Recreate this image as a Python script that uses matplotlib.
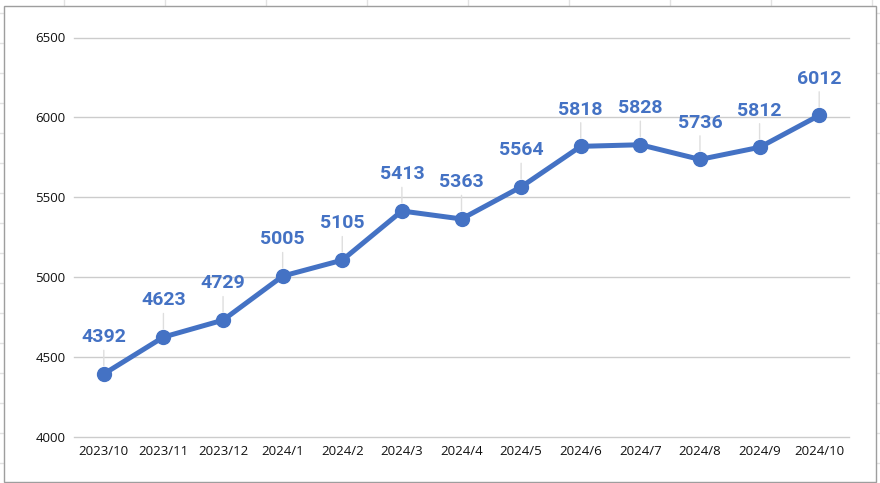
import numpy as np
import matplotlib.pyplot as plt
from matplotlib.patches import Rectangle
from matplotlib.lines import Line2D

months = ['2023/10', '2023/11', '2023/12', '2024/1', '2024/2', '2024/3', '2024/4',
          '2024/5', '2024/6', '2024/7', '2024/8', '2024/9', '2024/10']
values = [4392, 4623, 4729, 5005, 5105, 5413, 5363, 5564, 5818, 5828, 5736, 5812, 6012]
yticks = [4000, 4500, 5000, 5500, 6000, 6500]

W, H = 880, 483
blue = '#4472c4'

fig = plt.figure(figsize=(W / 100, H / 100), dpi=100)
fig.patch.set_facecolor('white')

# spreadsheet cells peeking out behind the chart
for x in np.arange(63.5, W, 101):
    fig.add_artist(Line2D([x / W, x / W], [0, 1], color='#e2e2e2', lw=1, zorder=-3))
for y in np.arange(13, H, 30):
    fig.add_artist(Line2D([0, 1], [1 - y / H, 1 - y / H], color='#e2e2e2', lw=1, zorder=-3))
fig.add_artist(Rectangle((3.5 / W, 1 - 481.5 / H), (876 - 3.5) / W, (481.5 - 6) / H,
                         transform=fig.transFigure, facecolor='white',
                         edgecolor='#9e9e9e', lw=1, zorder=-2))

ax = fig.add_axes([74 / W, 1 - 436.5 / H, (849 - 74) / W, (436.5 - 37.5) / H])
ax.set_facecolor('none')
x = np.arange(len(months))
ax.plot(x, values, color=blue, lw=3.6, marker='o', ms=10, zorder=3)

for xi, v in zip(x, values):
    ax.annotate(str(v), xy=(xi, v), xytext=(0, 20), textcoords='offset points',
                ha='center', va='bottom', fontsize=14, fontweight='bold',
                family='Roboto', color=blue,
                arrowprops=dict(arrowstyle='-', color='#dedede', lw=1,
                                shrinkA=1, shrinkB=6))

ax.set_xlim(-0.5, len(months) - 0.5)
ax.set_ylim(4000, 6500)
ax.set_yticks(yticks)
ax.set_xticks(x)
ax.set_xticklabels(months)
ax.grid(axis='y', color='#cccccc', lw=1)
for gl in ax.get_ygridlines():
    gl.set_clip_on(False)
ax.set_axisbelow(True)
for s in ax.spines.values():
    s.set_visible(False)
ax.tick_params(length=0, labelsize=9.5, labelcolor='#111111', pad=6)
ax.tick_params(axis='x', pad=6)
for lab in ax.get_xticklabels() + ax.get_yticklabels():
    lab.set_family('Open Sans')

fig.savefig('out.png', dpi=100)
